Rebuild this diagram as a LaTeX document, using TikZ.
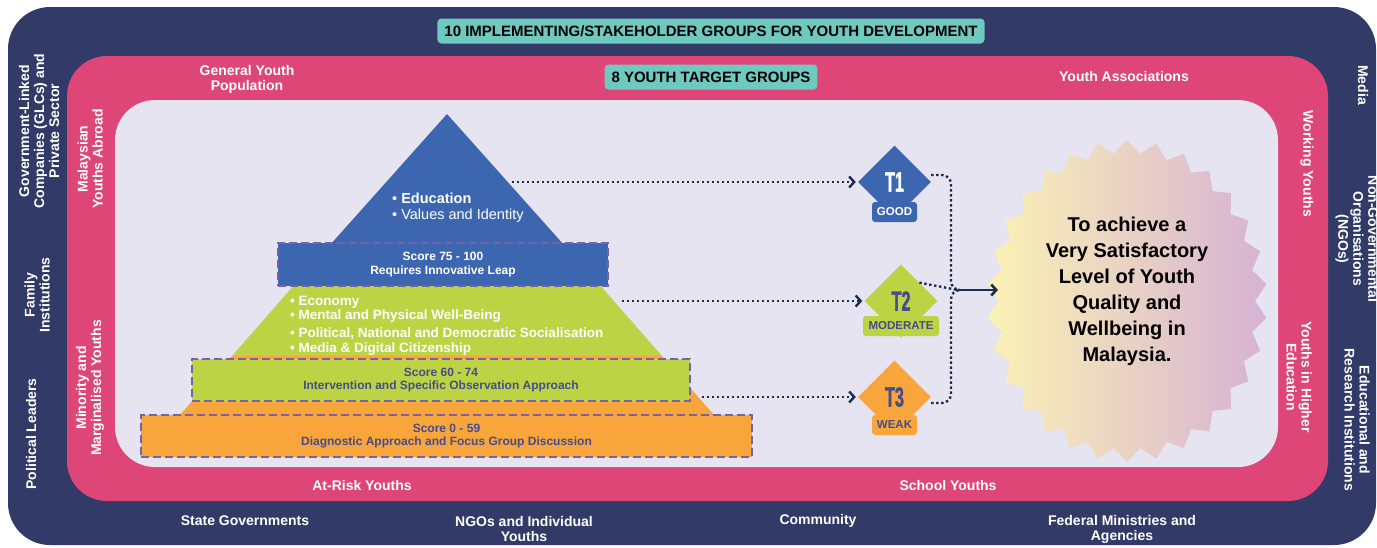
\documentclass[tikz,border=0pt]{standalone}
\usepackage{fontspec}
\setmainfont{Liberation Sans}
\newfontfamily\condfont{Liberation Sans}[FakeStretch=0.58, BoldFeatures={FakeBold=1.2}]
\usetikzlibrary{shapes.geometric,arrows.meta,calc}
\definecolor{navyc}{RGB}{50,58,104}
\definecolor{pinkc}{RGB}{221,70,119}
\definecolor{lavc}{RGB}{230,228,241}
\definecolor{tealc}{RGB}{110,202,192}
\definecolor{bluec}{RGB}{61,102,177}
\definecolor{limec}{RGB}{188,212,67}
\definecolor{orangec}{RGB}{248,166,59}
\definecolor{dashc}{RGB}{118,98,168}
\definecolor{darktxt}{RGB}{72,75,140}
\definecolor{arrowc}{RGB}{28,46,79}
\definecolor{sealy}{RGB}{251,242,180}
\definecolor{sealm}{RGB}{246,205,214}
\definecolor{sealp}{RGB}{214,178,212}
\tikzset{
  lbl/.style={text=white, font=\bfseries\fontsize{14}{15}\selectfont, align=center, inner sep=0pt},
  titlebox/.style={fill=tealc, rounded corners=4pt, text=black, font=\bfseries\fontsize{15}{15}\selectfont, inner xsep=7pt, inner ysep=0pt, minimum height=25pt},
  scorebox/.style={draw=dashc, line width=1.8pt, dash pattern=on 8pt off 4pt, inner sep=0pt, align=center, font=\bfseries\fontsize{12}{13.5}\selectfont},
  diam/.style={shape=diamond, minimum width=73pt, minimum height=73pt, inner sep=0pt, font=\condfont\bfseries\fontsize{28}{28}\selectfont},
  tagbox/.style={rounded corners=3pt, minimum height=20pt, inner sep=0pt, font=\bfseries\fontsize{11.5}{12}\selectfont},
  dotline/.style={draw=arrowc, line width=2.4pt, dash pattern=on 2.4pt off 2.6pt},
  dotarrow/.style={dotline, -{Straight Barb[length=5pt,width=11pt]}, shorten >=2pt},
  bullets/.style={text=white, align=left, inner sep=0pt, anchor=north west}
}
\begin{document}
\begin{tikzpicture}[x=1pt,y=-1pt]
\useasboundingbox (0,0) rectangle (1377,547);
\fill[white] (0,0) rectangle (1377,547);
% bands
\fill[navyc, rounded corners=42pt] (8,7) rectangle (1376,545);
\fill[pinkc, rounded corners=40pt] (67,56) rectangle (1328,501);
\fill[lavc, rounded corners=40pt] (115,100) rectangle (1278,467);

% titles
\node[titlebox] (title10) at (711,31) {10 IMPLEMENTING/STAKEHOLDER GROUPS FOR YOUTH DEVELOPMENT};
\node[titlebox] (title8) at (711,77) {8 YOUTH TARGET GROUPS};

% pink band labels
\node[lbl] (gyp) at (247,79) {General Youth\\Population};
\node[lbl] (ya) at (1124,76) {Youth Associations};
\node[lbl] (ary) at (362,485) {At-Risk Youths};
\node[lbl] (sy) at (948,485) {School Youths};
\node[lbl, rotate=90] (mya) at (90,159) {Malaysian\\Youths Abroad};
\node[lbl, rotate=90] (mmy) at (90,388) {Minority and\\Marginalised Youths};
\node[lbl, rotate=-90] (wy) at (1307,164) {Working Youths};
\node[lbl, rotate=-90] (yhe) at (1299,377) {Youths in Higher\\Education};

% navy band labels
\node[lbl] (sg) at (245,521) {State Governments};
\node[lbl] (ngoi) at (524,529) {NGOs and Individual\\Youths};
\node[lbl] (com) at (818,521) {Community};
\node[lbl] (fma) at (1122,529) {Federal Ministries and\\Agencies};
\node[lbl, rotate=90] (glc) at (39,131) {Government-Linked\\Companies (GLCs) and\\Private Sector};
\node[lbl, rotate=90] (fam) at (37,295) {Family\\Institutions};
\node[lbl, rotate=90] (pol) at (31,434) {Political Leaders};
\node[lbl, rotate=-90] (media) at (1363,85) {Media};
\node[lbl, rotate=-90] (ngo) at (1357,239) {Non-Governmental\\Organisations\\(NGOs)};
\node[lbl, rotate=-90] (edu) at (1357,420) {Educational and\\Research Institutions};

% pyramid
\fill[bluec] (447,114) -- (564,245) -- (330,245) -- cycle;
\fill[limec] (295,284) -- (599,284) -- (662,356) -- (232,356) -- cycle;
\fill[orangec] (232,356) -- (662,356) -- (715,416) -- (179,416) -- cycle;

\node[bullets, font=\fontsize{14.5}{15.5}\selectfont] (edutxt) at (392,193)
  {\textbullet\ \textbf{Education}\\\textbullet\ Values and Identity};
\node[bullets, font=\bfseries\fontsize{13.5}{14}\selectfont] (midtxt) at (290,296)
  {\textbullet\ Economy\\\textbullet\ Mental and Physical Well-Being\\[4pt]\textbullet\ Political, National and Democratic Socialisation\\[1pt]\textbullet\ Media \& Digital Citizenship};

\node[scorebox, fill=bluec, text=white, minimum width=330pt, minimum height=43pt] (b1) at (443,264.5)
  {Score 75 - 100\\Requires Innovative Leap};
\node[scorebox, fill=limec, text=darktxt, minimum width=498pt, minimum height=42pt] (b2) at (441,380)
  {Score 60 - 74\\Intervention and Specific Observation Approach};
\node[scorebox, fill=orangec, text=darktxt, minimum width=611pt, minimum height=42pt] (b3) at (446.5,436)
  {Score 0 - 59\\Diagnostic Approach and Focus Group Discussion};

% diamonds
\node[diam, fill=bluec, text=white] (t1) at (894.5,182) {T1};
\node[diam, fill=limec, text=darktxt] (t2) at (901,301) {T2};
\node[diam, fill=orangec, text=darktxt] (t3) at (894.5,397) {T3};
\node[tagbox, fill=bluec, text=white, minimum width=45pt] (good) at (894.5,212) {GOOD};
\node[tagbox, fill=limec, text=darktxt, minimum width=76pt] (mod) at (901,326) {MODERATE};
\node[tagbox, fill=orangec, text=darktxt, minimum width=45pt] (weak) at (894.5,425) {WEAK};

% seal
\begin{scope}[shift={(1127,301)}]
\shade[left color=sealy, middle color=sealm, right color=sealp]
  (90:140 and 161)
  \foreach \k [evaluate=\k as \rx using {mod(\k,2)==0 ? 140 : 128},
               evaluate=\k as \ry using {mod(\k,2)==0 ? 161 : 148}] in {1,...,59}
  { -- ({90+6*\k}:{\rx} and {\ry}) } -- cycle;
\end{scope}
\node[font=\bfseries\fontsize{20}{26}\selectfont, align=center, text=black, inner sep=0pt] (goal) at (1127,291)
  {To achieve a\\Very Satisfactory\\Level of Youth\\Quality and\\Wellbeing in\\Malaysia.};

% connectors
\coordinate (p1) at (512,182);
\coordinate (p2) at (622,301);
\coordinate (p3) at (702,397);
\coordinate (m) at (958,290);
\coordinate (sealin) at (998,290);
\draw[dotarrow] (p1) -- (t1.west);
\draw[dotarrow] (p2) -- (t2.west);
\draw[dotarrow] (p3) -- (t3.west);
\draw[dotline, rounded corners=9pt] ([yshift=7pt]t1.east) -- (951,175) -- (951,290) -- (m);
\draw[dotline, rounded corners=9pt] ([yshift=-6pt]t3.east) -- (951,403) -- (951,290) -- (m);
\draw[dotline] ($(t2.east)!0.5!(t2.north)$) -- (m);
\draw[arrowc, line width=2.6pt, -{Straight Barb[length=5pt,width=11pt]}] (m) -- (sealin);
\end{tikzpicture}
\end{document}
